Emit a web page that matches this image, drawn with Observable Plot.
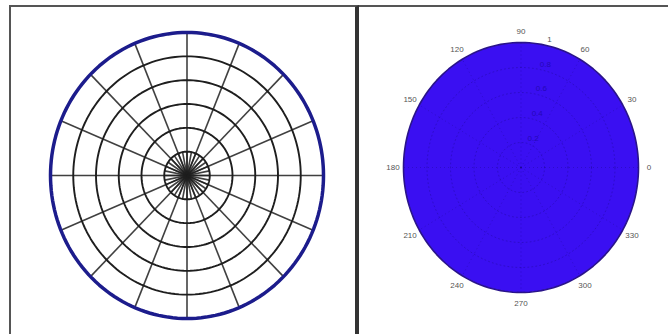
<!DOCTYPE html>
<html>
<head>
<meta charset="utf-8">
<script src="https://cdn.jsdelivr.net/npm/d3@7"></script>
<script src="https://cdn.jsdelivr.net/npm/@observablehq/plot@0.6"></script>
<style>
  html, body { margin: 0; padding: 0; background: #fff; }
  #wrap { position: relative; width: 668px; height: 334px; background: #fff; overflow: hidden; font-family: "Liberation Sans", Arial, sans-serif; }
  #left { position: absolute; left: 9px; top: 5px; width: 344px; height: 340px; border-left: 2px solid #555; border-top: 2px solid #555; border-right: 4px solid #333; }
  #right { position: absolute; left: 359px; top: 5px; width: 320px; height: 340px; border-top: 2px solid #555; }
  svg { position: absolute; left: 0; top: 0; }
</style>
</head>
<body>
<div id="wrap">
  <div id="left"></div>
  <div id="right"></div>
</div>
<script>
// ---- Left panel: polar grid ----
const leftRings = [1, 2, 3, 4, 5];          // black concentric circles
const leftOuterRing = 6;                     // thick blue outer circle
const innerSpokeAngles = [0, 11.25, 22.5, 33.75, 45, 56.25, 67.5, 78.75, 90, 101.25, 112.5, 123.75, 135, 146.25, 157.5, 168.75,
  180, 191.25, 202.5, 213.75, 225, 236.25, 247.5, 258.75, 270, 281.25, 292.5, 303.75, 315, 326.25, 337.5, 348.75];
const innerSpokeLength = 1;
const outerSpokeAngles = [0, 22.5, 45, 67.5, 90, 112.5, 135, 157.5, 180, 202.5, 225, 247.5, 270, 292.5, 315, 337.5];

// ---- Right panel: filled polar disk ----
const angleTicks = [0, 30, 60, 90, 120, 150, 180, 210, 240, 270, 300, 330];
const angleLabels = ["0", "30", "60", "90", "120", "150", "180", "210", "240", "270", "300", "330"];
const radialTicks = [0.2, 0.4, 0.6, 0.8, 1];
const radialLabels = ["0.2", "0.4", "0.6", "0.8", "1"];
const diskRadius = 1;

const rad = d => d * Math.PI / 180;
const circlePts = (r, key) => {
  const pts = [];
  for (let a = 0; a <= 360; a += 2) pts.push({k: key, x: r * Math.cos(rad(a)), y: r * Math.sin(rad(a))});
  return pts;
};

// Left plot
const ringPts = leftRings.flatMap(r => circlePts(r, r));
const outerPts = circlePts(leftOuterRing, "outer");
const spokes = [
  ...innerSpokeAngles.map(a => ({x1: 0, y1: 0, x2: innerSpokeLength * Math.cos(rad(a)), y2: innerSpokeLength * Math.sin(rad(a))})),
  ...outerSpokeAngles.map(a => ({x1: 0, y1: 0, x2: leftOuterRing * Math.cos(rad(a)), y2: leftOuterRing * Math.sin(rad(a))}))
];

const leftPlot = Plot.plot({
  width: 344, height: 327,
  margin: 0,
  style: {background: "transparent", overflow: "visible"},
  x: {domain: [-6, 6], range: [39, 312], axis: null},
  y: {domain: [-6, 6], range: [311, 25], axis: null},
  marks: [
    Plot.link(spokes, {x1: "x1", y1: "y1", x2: "x2", y2: "y2", stroke: "#1e1e1e", strokeWidth: 1.6, strokeOpacity: 0.85}),
    Plot.line(ringPts, {x: "x", y: "y", z: "k", stroke: "#1e1e1e", strokeWidth: 1.9, curve: "linear"}),
    Plot.line(outerPts, {x: "x", y: "y", stroke: "#1c1c8c", strokeWidth: 3.5})
  ]
});
document.getElementById("left").appendChild(leftPlot);

// Right plot
const diskPts = circlePts(diskRadius, "disk");
const gridRingPts = radialTicks.slice(0, -1).flatMap(r => circlePts(r, r));
const gridSpokes = angleTicks.map(a => ({x1: 0, y1: 0, x2: Math.cos(rad(a)), y2: Math.sin(rad(a))}));
const angleLabelData = angleTicks.map((a, i) => ({x: 1.09 * Math.cos(rad(a)), y: 1.09 * Math.sin(rad(a)), t: angleLabels[i]}));
const radialLabelData = radialTicks.map((r, i) => ({x: (r + 0.05) * Math.cos(rad(80)) + 0.06, y: (r + 0.04) * Math.sin(rad(80)), t: radialLabels[i], outside: r >= 1}));

const rightPlot = Plot.plot({
  width: 309, height: 327,
  margin: 0,
  style: {background: "transparent", overflow: "visible"},
  x: {domain: [-1, 1], range: [44, 279], axis: null},
  y: {domain: [-1, 1], range: [285, 35], axis: null},
  marks: [
    Plot.line(diskPts, {x: "x", y: "y", fill: "#3a0ff2", stroke: "#2a148a", strokeWidth: 1.6}),
    Plot.line(gridRingPts, {x: "x", y: "y", z: "k", stroke: "#140870", strokeOpacity: 0.3, strokeWidth: 1, strokeDasharray: "1,3"}),
    Plot.link(gridSpokes, {x1: "x1", y1: "y1", x2: "x2", y2: "y2", stroke: "#140870", strokeOpacity: 0.3, strokeWidth: 1, strokeDasharray: "1,3"}),
    Plot.text(angleLabelData, {x: "x", y: "y", text: "t", fill: "#555", fontSize: 8, fontFamily: "Liberation Sans, Arial, sans-serif"}),
    Plot.text(radialLabelData.filter(d => !d.outside), {x: "x", y: "y", text: "t", fill: "#2508b8", fontSize: 8, fontFamily: "Liberation Sans, Arial, sans-serif"}),
    Plot.text(radialLabelData.filter(d => d.outside), {x: "x", y: "y", text: "t", fill: "#555", fontSize: 8, fontFamily: "Liberation Sans, Arial, sans-serif"})
  ]
});
document.getElementById("right").appendChild(rightPlot);
</script>
</body>
</html>
